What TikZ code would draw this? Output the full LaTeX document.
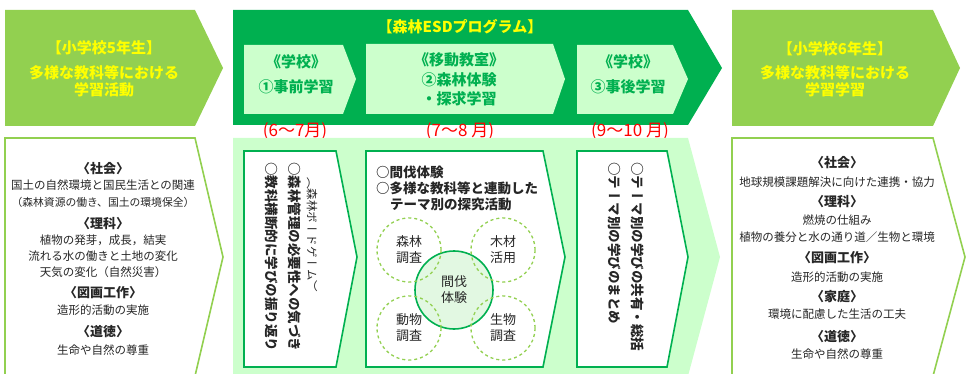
\documentclass[tikz,border=0pt]{standalone}
\usepackage{fontspec}
\setmainfont{Noto Sans CJK JP}
\newfontfamily\tatefont[Vertical=RotatedGlyphs]{Noto Sans CJK JP}
\usetikzlibrary{positioning}

\definecolor{leafgreen}{HTML}{92D050}
\definecolor{forestgreen}{HTML}{00B050}
\definecolor{palegreen}{HTML}{CCFFCC}
\definecolor{mintfill}{HTML}{E2F8E2}
\definecolor{labelyellow}{HTML}{FFFF00}
\definecolor{inkgray}{HTML}{262626}

\tikzset{
  toplabel/.style={font=\bfseries\fontsize{15}{17}\selectfont, text=labelyellow, inner sep=0pt},
  steplabel/.style={font=\bfseries\fontsize{15}{17}\selectfont, text=forestgreen, inner sep=0pt},
  month/.style={font=\fontsize{17}{19}\selectfont, text=red, inner sep=0pt},
  subject/.style={font=\bfseries\fontsize{13}{15}\selectfont, text=inkgray, inner sep=0pt},
  detail/.style={font=\fontsize{11.5}{13}\selectfont, text=inkgray, inner sep=0pt},
  tate/.style={rotate=-90, anchor=west, inner sep=0pt, text=inkgray, font=\tatefont\bfseries\fontsize{13.5}{15}\selectfont},
  theme/.style={circle, draw=leafgreen, dashed, line width=1.3pt, minimum size=64pt, align=center, font=\fontsize{13}{16}\selectfont, text=inkgray},
  outline/.style={fill=white, line width=1.6pt, line join=miter},
}

\begin{document}
\begin{tikzpicture}[x=1pt, y=-1pt]
\useasboundingbox (0,0) rectangle (974,374);

% upper band
\fill[leafgreen] (5,10) -- (195,10) -- (223,68) -- (195,126) -- (5,126) -- cycle;
\fill[forestgreen] (233,10) -- (688,10) -- (722,68) -- (688,125) -- (233,125) -- cycle;
\fill[palegreen] (244,45) -- (343,45) -- (356,79) -- (343,114) -- (244,114) -- cycle;
\fill[palegreen] (366,44) -- (553,44) -- (565,79) -- (553,114) -- (366,114) -- cycle;
\fill[palegreen] (577,45) -- (673,45) -- (688,79) -- (673,114) -- (577,114) -- cycle;
\fill[leafgreen] (732,10) -- (933,10) -- (960,68) -- (933,126) -- (732,126) -- cycle;

\node[toplabel] (grade5) at (104,48) {【小学校5年生】};
\node[toplabel] (grade5a) at (104,73) {多様な教科等における};
\node[toplabel, below=2pt of grade5a] (grade5b) {学習活動};

\node[toplabel] (esd) at (460,27) {【森林ESDプログラム】};
\node[steplabel] (pre) at (296,62) {《学校》};
\node[steplabel] (pre2) at (296,87) {①事前学習};
\node[steplabel] (trip) at (459,60) {《移動教室》};
\node[steplabel] (trip2) at (459,80) {②森林体験};
\node[steplabel] (trip3) at (459,99) {・探求学習};
\node[steplabel] (post) at (628,62) {《学校》};
\node[steplabel] (post2) at (628,87) {③事後学習};

\node[toplabel] (grade6) at (835,49) {【小学校6年生】};
\node[toplabel] (grade6a) at (835,73) {多様な教科等における};
\node[toplabel, below=2pt of grade6a] (grade6b) {学習学習};

% months
\node[month] (m1) at (295,131) {(6～7月)};
\node[month] (m2) at (460,131) {(7～8 月)};
\node[month] (m3) at (630,131) {(9～10 月)};

% lower band
\fill[palegreen] (233,138) -- (688,138) -- (720,257) -- (688,376) -- (233,376) -- cycle;
\draw[outline, draw=leafgreen] (5,138) -- (195,138) -- (223,257) -- (195,376) -- (5,376) -- cycle;
\draw[outline, draw=leafgreen] (732,138) -- (933,138) -- (965,257) -- (933,376) -- (732,376) -- cycle;
\draw[outline, draw=forestgreen] (244,151) -- (336,151) -- (357,257) -- (336,367) -- (244,367) -- cycle;
\draw[outline, draw=forestgreen] (366,151) -- (543,151) -- (565,257) -- (543,367) -- (366,367) -- cycle;
\draw[outline, draw=forestgreen] (577,151) -- (667,151) -- (688,257) -- (667,367) -- (577,367) -- cycle;

% grade 5 subjects
\node[subject] (soc5) at (103,169) {〈社会〉};
\node[detail] (soc5a) at (103,185) {国土の自然環境と国民生活との関連};
\node[detail, font=\fontsize{10.8}{12}\selectfont] (soc5b) at (103,202) {（森林資源の働き、国土の環境保全）};
\node[subject] (sci5) at (103,224) {〈理科〉};
\node[detail] (sci5a) at (103,240) {植物の発芽，成長，結実};
\node[detail] (sci5b) at (103,256) {流れる水の働きと土地の変化};
\node[detail] (sci5c) at (103,272) {天気の変化（自然災害）};
\node[subject] (art5) at (103,293) {〈図画工作〉};
\node[detail] (art5a) at (103,310) {造形的活動の実施};
\node[subject] (mor5) at (103,332) {〈道徳〉};
\node[detail] (mor5a) at (103,350) {生命や自然の尊重};

% step 1
\node[tate, font=\tatefont\fontsize{11.5}{13}\selectfont] (a1) at (312,177) {（森林ボードゲーム）};
\node[tate] (a2) at (295,162) {○森林管理の必要性への気づき};
\node[tate] (a3) at (272,162) {○教科横断的に学びの振り返り};

% step 2
\node[subject, anchor=west, font=\bfseries\fontsize{13.5}{15}\selectfont] (b1) at (376,172) {○間伐体験};
\node[subject, anchor=west, font=\bfseries\fontsize{13.5}{15}\selectfont] (b2) at (376,188) {○多様な教科等と連動した};
\node[subject, anchor=west, font=\bfseries\fontsize{13.5}{15}\selectfont] (b3) at (390,204) {テーマ別の探究活動};
\node[circle, draw=forestgreen, fill=mintfill, line width=1.6pt, minimum size=78pt, align=center,
      font=\fontsize{13}{16}\selectfont, text=inkgray] (thin) at (454,290) {間伐\\体験};
\node[theme] (forest) at (409,250) {森林\\調査};
\node[theme] (wood) at (503,250) {木材\\活用};
\node[theme] (animal) at (409,328) {動物\\調査};
\node[theme] (life) at (503,328) {生物\\調査};

% step 3
\node[tate] (c1) at (638,162) {○テーマ別の学びの共有・総括};
\node[tate] (c2) at (615,162) {○テーマ別の学びのまとめ};

% grade 6 subjects
\node[subject] (soc6) at (837,163) {〈社会〉};
\node[detail] (soc6a) at (837,182) {地球規模課題解決に向けた連携・協力};
\node[subject] (sci6) at (837,202) {〈理科〉};
\node[detail] (sci6a) at (837,220) {燃焼の仕組み};
\node[detail] (sci6b) at (837,237) {植物の養分と水の通り道／生物と環境};
\node[subject] (art6) at (837,258) {〈図画工作〉};
\node[detail] (art6a) at (837,277) {造形的活動の実施};
\node[subject] (home6) at (837,297) {〈家庭〉};
\node[detail] (home6a) at (837,314) {環境に配慮した生活の工夫};
\node[subject] (mor6) at (837,337) {〈道徳〉};
\node[detail] (mor6a) at (837,354) {生命や自然の尊重};
\end{tikzpicture}
\end{document}
